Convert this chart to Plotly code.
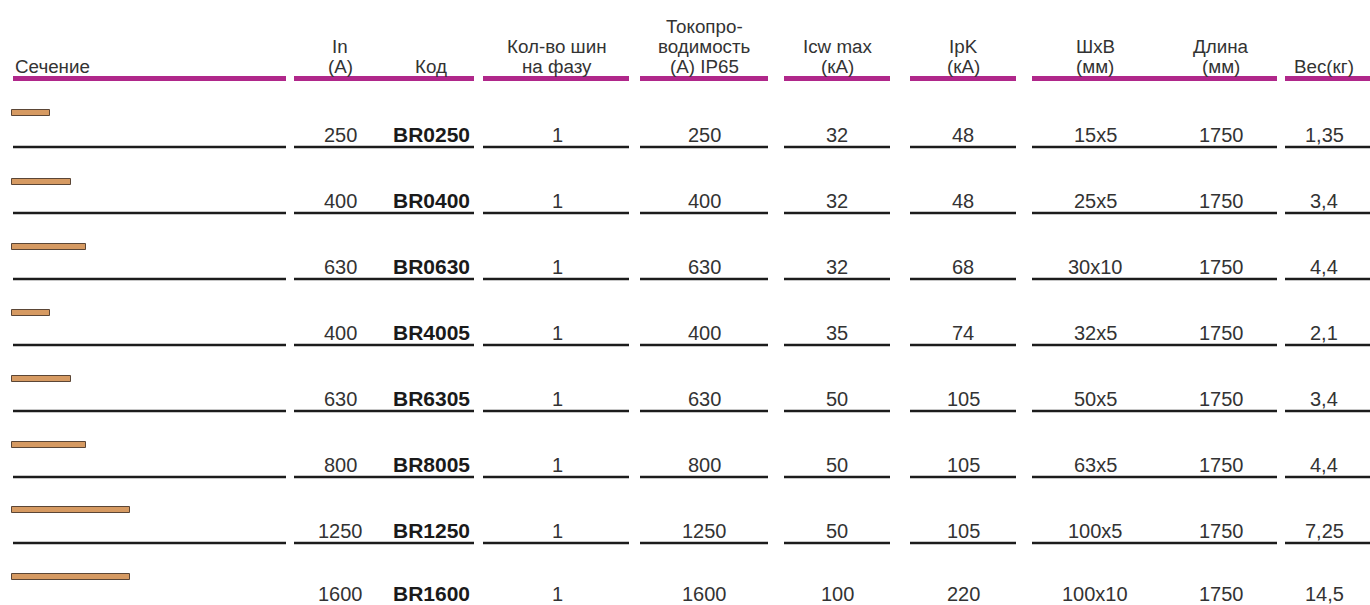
import plotly.graph_objects as go

# ---------------- data ----------------
section_draw_mm = [32, 50, 63, 32, 50, 63, 100, 100]   # drawn cross-section width (sketch)
rated_current = [250, 400, 630, 400, 630, 800, 1250, 1600]
codes = ["BR0250", "BR0400", "BR0630", "BR4005", "BR6305", "BR8005", "BR1250", "BR1600"]
bars_per_phase = [1, 1, 1, 1, 1, 1, 1, 1]
conductivity_ip65 = [250, 400, 630, 400, 630, 800, 1250, 1600]
icw_max = [32, 32, 32, 35, 50, 50, 50, 100]
ipk = [48, 48, 68, 74, 105, 105, 105, 220]
dims = ["15x5", "25x5", "30x10", "32x5", "50x5", "63x5", "100x5", "100x10"]
length_mm = [1750, 1750, 1750, 1750, 1750, 1750, 1750, 1750]
weight = ["1,35", "3,4", "4,4", "2,1", "3,4", "4,4", "7,25", "14,5"]

headers = [
    ["Сечение"],
    ["In", "(A)"],
    ["Код"],
    ["Кол-во шин", "на фазу"],
    ["Токопро-", "водимость", "(A) IP65"],
    ["Icw max", "(кA)"],
    ["IpK", "(кA)"],
    ["ШxB", "(мм)"],
    ["Длина", "(мм)"],
    ["Вес(кг)"],
]

# ---------------- layout constants ----------------
W, H = 1370, 605
MAGENTA = "#b0278a"
INK = "#333333"
FONT = "Liberation Sans, Arial, sans-serif"

# underline segments (x0, x1)
segments = [(13, 286), (294, 474), (483, 629), (640, 768), (784, 890),
             (910, 1016), (1032, 1277), (1285, 1372)]
# column text centers
col_x = [13, 340, 431, 557, 704, 837, 963, 1095, 1221, 1324]

header_line_y = [26, 46, 66]
header_rule_y = 78.5
row_y = [135, 201, 267, 333, 399, 465, 531, 594]   # row text centres (layout)
bar_y = [113, 182, 247, 313, 379, 445, 510, 577]   # sketch centres (layout)
rule_offset = 12         # row rule below text center
bar_left = 12
px_per_mm = 1.175

fig = go.Figure()

# cross-section sketches as horizontal bars
fig.add_trace(go.Bar(
    orientation="h",
    y=bar_y,
    x=[v * px_per_mm for v in section_draw_mm],
    base=bar_left,
    width=6,
    marker=dict(color="#d69a62", line=dict(color="#5b4636", width=1)),
    hoverinfo="skip",
    showlegend=False,
))

shapes = []
for x0, x1 in segments:
    shapes.append(dict(type="line", xref="x", yref="y", x0=x0, x1=x1,
                       y0=header_rule_y, y1=header_rule_y,
                       line=dict(color=MAGENTA, width=5)))
    for y in row_y[:-1]:
        shapes.append(dict(type="line", xref="x", yref="y", x0=x0, x1=x1,
                           y0=y + rule_offset, y1=y + rule_offset,
                           line=dict(color="#1c1c1c", width=2.3)))

annotations = []
# headers
for ci, lines in enumerate(headers):
    ys = header_line_y[-len(lines):]
    for txt, y in zip(lines, ys):
        annotations.append(dict(
            x=col_x[ci], y=y, xref="x", yref="y", text=txt, showarrow=False,
            xanchor="left" if ci == 0 else "center", yanchor="middle",
            font=dict(family=FONT, size=18.8, color=INK)))

# body cells
columns = [
    (1, [str(v) for v in rated_current], False),
    (2, codes, True),
    (3, [str(v) for v in bars_per_phase], False),
    (4, [str(v) for v in conductivity_ip65], False),
    (5, [str(v) for v in icw_max], False),
    (6, [str(v) for v in ipk], False),
    (7, dims, False),
    (8, [str(v) for v in length_mm], False),
    (9, weight, False),
]
for ci, vals, bold in columns:
    for v, y in zip(vals, row_y):
        annotations.append(dict(
            x=col_x[ci], y=y - (0.5 if bold else 0), xref="x", yref="y",
            text=f"<b>{v}</b>" if bold else v, showarrow=False,
            xanchor="center", yanchor="middle", borderpad=0,
            font=dict(family=FONT, size=21 if bold else 20,
                      color="#1a1a1a" if bold else INK)))

fig.update_layout(
    width=W, height=H,
    margin=dict(l=0, r=0, t=0, b=0),
    paper_bgcolor="white", plot_bgcolor="white",
    xaxis=dict(range=[0, W], visible=False, fixedrange=True),
    yaxis=dict(range=[H, 0], visible=False, fixedrange=True),
    shapes=shapes, annotations=annotations,
    bargap=0,
)

fig.write_html("out.html", config={"displayModeBar": False},
               post_script="document.body.style.margin='0';document.body.style.overflow='hidden';")
